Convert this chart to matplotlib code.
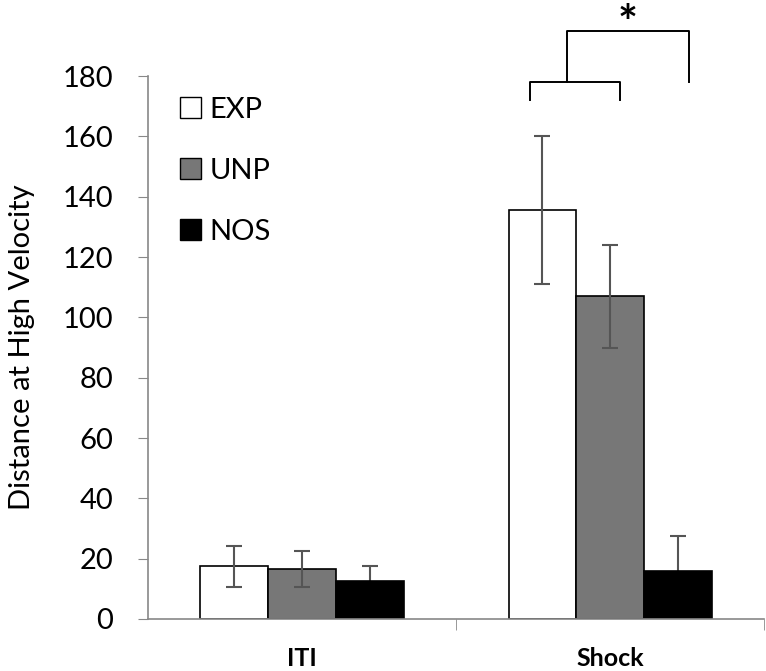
import numpy as np
import matplotlib
matplotlib.use('Agg')
import matplotlib.pyplot as plt
from matplotlib.patches import Patch

plt.rcParams['font.family'] = ['Lato', 'DejaVu Sans']

# data
categories = ['ITI', 'Shock']
groups = ['EXP', 'UNP', 'NOS']
means = {
    'EXP': [17.5, 135.5],
    'UNP': [16.5, 107.0],
    'NOS': [12.5, 16.0],
}
errs = {
    'EXP': [6.8, 24.5],
    'UNP': [6.0, 17.0],
    'NOS': [5.0, 11.5],
}
colors = {'EXP': 'white', 'UNP': '#777777', 'NOS': 'black'}

fig = plt.figure(figsize=(7.66, 6.71), dpi=100)
ax = fig.add_axes([0.193, 0.0775, 0.805, 0.8092])

x = np.arange(len(categories))
width = 0.22
for i, g in enumerate(groups):
    pos = x + (i - 1) * width
    ax.bar(pos, means[g], width, color=colors[g], edgecolor='black',
           linewidth=1.2, zorder=2)
    # NOS error bar sits behind the black bar
    z = 1 if g == 'NOS' else 3
    ax.errorbar(pos, means[g], yerr=errs[g], fmt='none', ecolor='#555555',
                elinewidth=1.5, capsize=6, capthick=1.5, zorder=z)

ax.set_xlim(-0.5, 1.5)
ax.set_ylim(0, 180)
ax.set_yticks(np.arange(0, 181, 20))
ax.tick_params(axis='y', labelsize=21, length=7, color='#888888', pad=18)
ax.set_xticks(x)
ax.set_xticklabels(categories, fontsize=18, fontweight='bold')
ax.tick_params(axis='x', which='major', length=0, pad=20)
ax.set_xticks([0.5, 1.5], minor=True)
ax.tick_params(axis='x', which='minor', length=8, color='#888888')
ax.set_ylabel('Distance at High Velocity', fontsize=21, labelpad=20)

for s in ['top', 'right']:
    ax.spines[s].set_visible(False)
for s in ['left', 'bottom']:
    ax.spines[s].set_color('#888888')
    ax.spines[s].set_linewidth(1.2)

handles = [Patch(facecolor=colors[g], edgecolor='black', label=g) for g in groups]
ax.legend(handles=handles, loc='upper left', bbox_to_anchor=(0.01, 1.01),
          frameon=False, fontsize=21, handlelength=0.7, handleheight=0.7,
          handletextpad=0.3, labelspacing=1.2)

# significance brackets over the Shock group
exp_x = 1 - width
unp_x = 1.0
nos_x = 1 + width
lo_l, lo_r = exp_x - 0.04, unp_x + 0.03
lo_y, lo_leg = 178, 172
ax.plot([lo_l, lo_l, lo_r, lo_r], [lo_leg, lo_y, lo_y, lo_leg], color='black',
        lw=1.4, clip_on=False)
mid = (lo_l + lo_r) / 2 - 0.026
hi_r = nos_x + 0.035
hi_y = 195
ax.plot([mid, mid, hi_r, hi_r], [lo_y, hi_y, hi_y, lo_y],
        color='black', lw=1.4, clip_on=False)
ax.text((mid + hi_r) / 2, 197, '*', ha='center', va='center',
        fontsize=34, fontweight='bold', clip_on=False)

fig.savefig('out.png', dpi=100)
